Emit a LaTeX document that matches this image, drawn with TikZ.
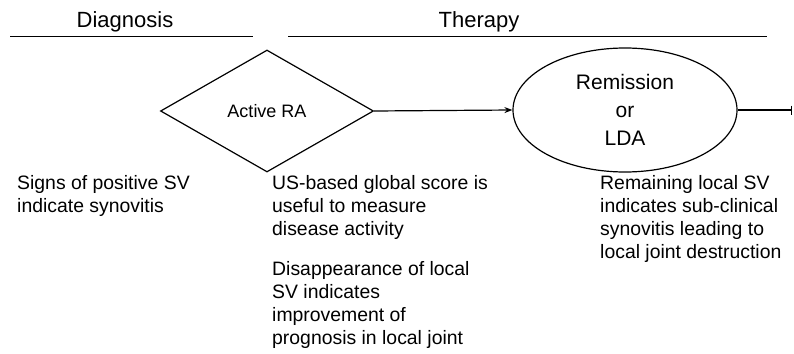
\documentclass[tikz,border=0pt]{standalone}
\usepackage{fontspec}
\setmainfont{Liberation Sans}
\usetikzlibrary{shapes.geometric,arrows.meta}
\begin{document}
\begin{tikzpicture}[x=1pt,y=-1pt,
  hdr/.style={font=\fontsize{22}{26}\selectfont, inner sep=0pt},
  body/.style={font=\fontsize{19.4}{23}\selectfont, align=left, anchor=north west, inner sep=0pt},
  rule/.style={line width=1pt},
  conn/.style={line width=1.2pt},
  shapeline/.style={draw, line width=1.2pt, inner sep=0pt}
]
\useasboundingbox (0,0) rectangle (794,353);
% headers
\node[hdr] (diag) at (125,22) {Diagnosis};
\node[hdr] (ther) at (479,22) {Therapy};
\coordinate (d1) at (10,37); \coordinate (d2) at (253,37);
\coordinate (t1) at (288,37); \coordinate (t2) at (767,37);
\draw[rule] (d1) -- (d2);
\draw[rule] (t1) -- (t2);
% diamond
\node[shapeline, diamond, minimum width=213pt, minimum height=122pt, aspect=1.75,
      font=\fontsize{18}{22}\selectfont] (ra) at (267,111) {Active RA};
% ellipse
\node[shapeline, ellipse, minimum width=224pt, minimum height=124pt, align=center,
      font=\fontsize{21}{28}\selectfont] (rem) at (625,110) {Remission\\or\\LDA};
\coordinate (endp) at (792,110);
\draw[conn, -{Stealth[length=8pt,width=6pt]}] (ra.east) -- (rem.west);
\draw[conn, -{Bar[width=9pt]}] (rem.east) -- (endp);
% texts
\node[body] (t1a) at (17,175) {Signs of positive SV\\indicate synovitis};
\node[body] (t2a) at (272,175) {US-based global score is\\useful to measure\\disease activity};
\node[body] (t2b) at (272,261) {Disappearance of local\\SV indicates\\improvement of\\prognosis in local joint};
\node[body] (t3a) at (600,175) {Remaining local SV\\indicates sub-clinical\\synovitis leading to\\local joint destruction};
\end{tikzpicture}
\end{document}
